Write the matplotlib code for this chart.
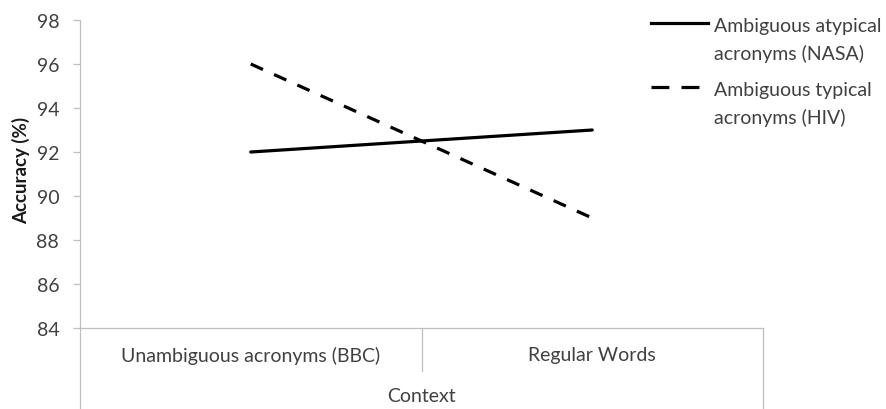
import matplotlib
matplotlib.use("Agg")
import matplotlib.pyplot as plt
from matplotlib.lines import Line2D

categories = ["Unambiguous acronyms (BBC)", "Regular Words"]
series_names = [["Ambiguous atypical", "acronyms (NASA)"], ["Ambiguous typical", "acronyms (HIV)"]]
atypical = [92, 93]
typical = [96, 89]
yticks = [84, 86, 88, 90, 92, 94, 96, 98]

plt.rcParams['font.family'] = ['Lato', 'DejaVu Sans']
TXT = '#404040'
GRID = '#bfbfbf'
FS = 14

W, H = 886, 410
fig = plt.figure(figsize=(W / 100, H / 100), dpi=100)
L, R, T, B = 80, 763, 21, 329
ax = fig.add_axes([L / W, 1 - B / H, (R - L) / W, (B - T) / H])

x = list(range(len(categories)))
styles = ['-', (0, (4.2, 3.8))]
leg_styles = ['-', (0, (5.6, 3.8))]
for vals, ls in zip([atypical, typical], styles):
    ax.plot(x, vals, color='black', lw=2.3, linestyle=ls, solid_capstyle='round', dash_capstyle='butt')

ax.set_xlim(-0.5, len(categories) - 0.5)
ax.set_ylim(84, 98)
ax.set_yticks(yticks)
ax.set_yticklabels([str(v) for v in yticks])
ax.set_xticks(x)
ax.set_xticklabels(categories)

for s in ['top', 'right']:
    ax.spines[s].set_visible(False)
for s in ['left', 'bottom']:
    ax.spines[s].set_color(GRID)
    ax.spines[s].set_linewidth(0.9)

ax.tick_params(axis='y', length=5, width=0.9, color=GRID, pad=10, labelsize=FS, labelcolor=TXT)
ax.tick_params(axis='x', length=0, pad=13, labelsize=FS, labelcolor=TXT)

ph = B - T
ax.plot([0, 0], [0, -(H - B) / ph], transform=ax.transAxes, color=GRID, lw=0.9, clip_on=False)
ax.plot([1, 1], [0, -(H - B) / ph], transform=ax.transAxes, color=GRID, lw=0.9, clip_on=False)
ax.plot([0.5, 0.5], [0, -43 / ph], transform=ax.transAxes, color=GRID, lw=0.9, clip_on=False)

fig.text((L + R) / 2 / W, 1 - 397 / H, "Context", fontsize=FS, color=TXT, ha='center', va='center')
fig.text(21 / W, 1 - 170 / H, "Accuracy (%)", fontsize=13.5, color='#1a1a1a', fontweight='bold',
         ha='center', va='center', rotation=90)

# legend drawn manually
leg_rows = [(25, 52), (89, 116)]
for name, ls, (y1, y2) in zip(series_names, leg_styles, leg_rows):
    fy = 1 - (y1 - 1) / H
    fig.add_artist(Line2D([651 / W, 708 / W], [fy, fy], color='black', lw=2.3, linestyle=ls,
                          transform=fig.transFigure))
    fig.text(714 / W, 1 - y1 / H, name[0], fontsize=FS, color=TXT, ha='left', va='center_baseline')
    fig.text(714 / W, 1 - y2 / H, name[1], fontsize=FS, color=TXT, ha='left', va='center_baseline')

fig.savefig("out.png", dpi=100)
